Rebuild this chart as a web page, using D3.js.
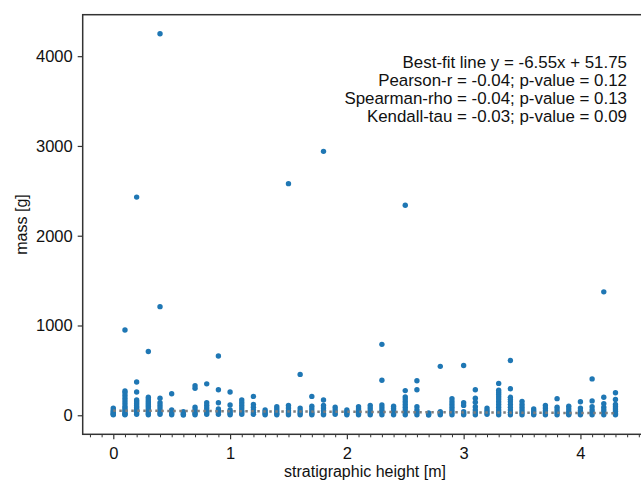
<!DOCTYPE html>
<html>
<head>
<meta charset="utf-8">
<script src="https://cdn.jsdelivr.net/npm/d3@7"></script>
<style>
    body { margin: 0; background: #fff; }
    #chart { width: 641px; height: 486px; overflow: hidden; }
    text { font-family: "Liberation Sans", Arial, sans-serif; fill: #111; }
</style>
</head>
<body>
<div id="chart"></div>
<script>

// stratigraphic height of each sampled level [m]
const heights = [0, 0.1, 0.2, 0.3, 0.4, 0.5, 0.6, 0.7, 0.8, 0.9,
    1.0, 1.1, 1.2, 1.3, 1.4, 1.5, 1.6, 1.7, 1.8, 1.9,
    2.0, 2.1, 2.2, 2.3, 2.4, 2.5, 2.6, 2.7, 2.8, 2.9,
    3.0, 3.1, 3.2, 3.3, 3.4, 3.5, 3.6, 3.7, 3.8, 3.9,
    4.0, 4.1, 4.2, 4.3];

// masses found at each level [g]
const masses = [
    [80, 60, 45, 30, 20, 10, 5],
    [950, 270, 250, 220, 190, 160, 130, 100, 80, 60, 40, 20, 10, 5],
    [2430, 370, 260, 170, 150, 130, 110, 90, 70, 50, 30, 10],
    [710, 200, 180, 160, 140, 120, 100, 80, 60, 40, 20, 5],
    [4250, 1210, 190, 140, 110, 80, 50, 30, 10],
    [240, 60, 40, 20, 5],
    [40, 25, 10, 3],
    [330, 300, 90, 60, 40, 20, 5],
    [350, 140, 110, 80, 50, 30, 10],
    [660, 285, 140, 70, 50, 30, 10],
    [260, 115, 60, 40, 20, 5],
    [170, 140, 110, 80, 50, 30, 10],
    [210, 120, 90, 60, 30, 10],
    [60, 40, 20, 5],
    [95, 70, 45, 20, 5],
    [2580, 110, 80, 50, 25, 5],
    [455, 80, 50, 25, 5],
    [210, 100, 70, 40, 20, 5],
    [2940, 170, 110, 80, 50, 20, 5],
    [90, 60, 35, 10],
    [60, 40, 20, 5],
    [95, 70, 45, 20, 5],
    [110, 80, 50, 25, 5],
    [790, 390, 115, 85, 55, 30, 5],
    [100, 75, 50, 25, 5],
    [2340, 275, 205, 180, 150, 120, 90, 60, 30, 5],
    [385, 285, 95, 60, 30, 5],
    [25, 10, 3],
    [545, 40, 20, 5],
    [185, 150, 120, 90, 60, 30, 5],
    [555, 140, 110, 40, 20, 5],
    [285, 190, 145, 95, 60, 30, 5],
    [80, 55, 30, 10],
    [355, 280, 255, 230, 205, 180, 150, 120, 90, 60, 30, 5],
    [610, 295, 200, 175, 150, 120, 90, 60, 30, 5],
    [155, 120, 90, 60, 30, 5],
    [70, 45, 20, 5],
    [110, 80, 50, 25, 5],
    [185, 90, 60, 30, 5],
    [100, 70, 40, 15, 5],
    [150, 80, 50, 20, 5],
    [405, 160, 95, 60, 30, 5],
    [1375, 200, 130, 90, 60, 30, 5],
    [250, 175, 120, 95, 70, 45, 20, 5]
];

const xTicks = [0, 1, 2, 3, 4];
const yTicks = [0, 1000, 2000, 3000, 4000];

// best-fit line y = slope * x + intercept
const slope = -6.55;
const intercept = 51.75;

const statLines = [
    "Best-fit line y = -6.55x + 51.75",
    "Pearson-r = -0.04; p-value = 0.12",
    "Spearman-rho = -0.04; p-value = 0.13",
    "Kendall-tau = -0.03; p-value = 0.09"
];


class ScatterVis {

    constructor(parentElement) {
        this.parentElement = parentElement;
        this.displayData = [];
        this.initVis();
    }

    initVis() {
        let vis = this;

        vis.margin = {top: 14.7, left: 82.7};
        vis.width = 647 - vis.margin.left;
        vis.height = 434.3 - vis.margin.top;

        vis.svg = d3.select("#" + vis.parentElement).append("svg")
            .attr("width", 641)
            .attr("height", 486);

        vis.g = vis.svg.append("g")
            .attr("transform", `translate(${vis.margin.left}, ${vis.margin.top})`);

        vis.x = d3.scaleLinear()
            .domain([-0.262, 4.57])
            .range([0, vis.width]);

        vis.y = d3.scaleLinear()
            .domain([-212, 4462])
            .range([vis.height, 0]);

        vis.wrangleData();
    }

    wrangleData() {
        let vis = this;

        vis.displayData = [];
        heights.forEach((h, i) => {
            masses[i].forEach(m => vis.displayData.push({height: h, mass: m}));
        });

        vis.updateVis();
    }

    updateVis() {
        let vis = this;

        // points
        vis.g.append("g")
            .selectAll("circle")
            .data(vis.displayData)
            .enter().append("circle")
            .attr("cx", d => vis.x(d.height))
            .attr("cy", d => vis.y(d.mass))
            .attr("r", 2.7)
            .attr("fill", "#1f77b4");

        // best-fit line (dotted, on top)
        let xs = d3.extent(heights);
        vis.g.append("line")
            .attr("x1", vis.x(xs[0]))
            .attr("y1", vis.y(slope * xs[0] + intercept))
            .attr("x2", vis.x(xs[1]))
            .attr("y2", vis.y(slope * xs[1] + intercept))
            .attr("stroke", "#7f7f7f")
            .attr("stroke-width", 2.5)
            .attr("stroke-dasharray", "2.5,3.5");

        // minor ticks on x
        let minor = d3.range(-2, 46).map(d => d / 10).filter(d => !xTicks.includes(d));
        vis.g.append("g")
            .attr("transform", `translate(0, ${vis.height})`)
            .call(d3.axisBottom(vis.x).tickValues(minor).tickSize(3).tickFormat(""))
            .call(g => g.select(".domain").remove())
            .selectAll("line").attr("stroke", "#333").attr("stroke-width", 1);

        // major x axis
        let xAxis = vis.g.append("g")
            .attr("transform", `translate(0, ${vis.height})`)
            .call(d3.axisBottom(vis.x).tickValues(xTicks).tickSize(5).tickPadding(8).tickFormat(d3.format("d")));
        xAxis.select(".domain").remove();
        xAxis.selectAll("line").attr("stroke", "#333").attr("stroke-width", 1.2);
        xAxis.selectAll("text").attr("font-size", 16.5).style("fill", "#111");

        // y axis
        let yAxis = vis.g.append("g")
            .call(d3.axisLeft(vis.y).tickValues(yTicks).tickSize(5).tickPadding(5).tickFormat(d3.format("d")));
        yAxis.select(".domain").remove();
        yAxis.selectAll("line").attr("stroke", "#333").attr("stroke-width", 1.2);
        yAxis.selectAll("text").attr("font-size", 16.5).style("fill", "#111");

        // frame
        vis.g.append("rect")
            .attr("width", vis.width)
            .attr("height", vis.height)
            .attr("fill", "none")
            .attr("stroke", "#333")
            .attr("stroke-width", 1.5);

        // axis labels
        vis.svg.append("text")
            .attr("x", 365)
            .attr("y", 477)
            .attr("text-anchor", "middle")
            .attr("font-size", 16)
            .text("stratigraphic height [m]");

        vis.svg.append("text")
            .attr("transform", "translate(27, 224.5) rotate(-90)")
            .attr("text-anchor", "middle")
            .attr("font-size", 16)
            .text("mass [g]");

        // stats annotation
        vis.svg.append("g")
            .selectAll("text")
            .data(statLines)
            .enter().append("text")
            .attr("x", 627)
            .attr("y", (d, i) => 68 + i * 18)
            .attr("text-anchor", "end")
            .attr("font-size", 16.9)
            .text(d => d);
    }
}

new ScatterVis("chart");
</script>
</body>
</html>
